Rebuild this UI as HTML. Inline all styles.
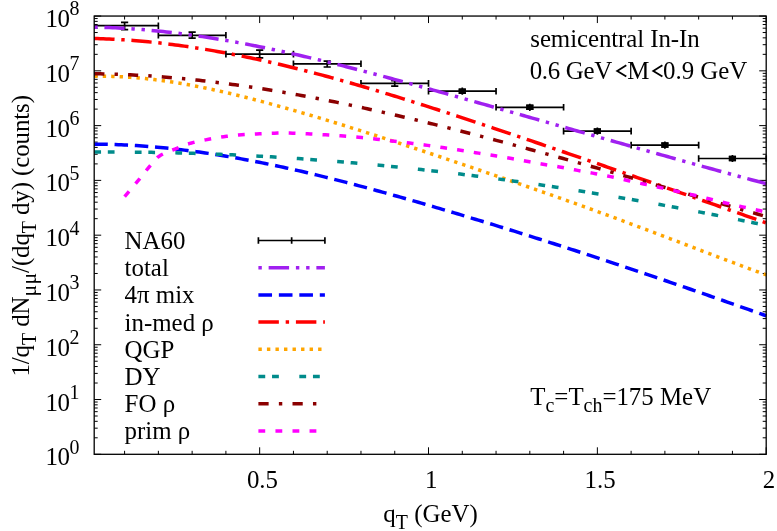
<!DOCTYPE html>
<html><head><meta charset="utf-8"><title>plot</title>
<style>html,body{margin:0;padding:0;background:#fff;}svg{display:block;will-change:transform;}</style>
</head><body>
<svg width="777" height="531" viewBox="0 0 777 531">
<rect width="777" height="531" fill="#fff"/>
<path d="M94.20,454.30 h7.00 M766.20,454.30 h-7.00 M94.20,437.81 h3.50 M766.20,437.81 h-3.50 M94.20,428.16 h3.50 M766.20,428.16 h-3.50 M94.20,421.32 h3.50 M766.20,421.32 h-3.50 M94.20,416.01 h3.50 M766.20,416.01 h-3.50 M94.20,411.67 h3.50 M766.20,411.67 h-3.50 M94.20,408.00 h3.50 M766.20,408.00 h-3.50 M94.20,404.83 h3.50 M766.20,404.83 h-3.50 M94.20,402.03 h3.50 M766.20,402.03 h-3.50 M94.20,399.52 h7.00 M766.20,399.52 h-7.00 M94.20,383.03 h3.50 M766.20,383.03 h-3.50 M94.20,373.38 h3.50 M766.20,373.38 h-3.50 M94.20,366.54 h3.50 M766.20,366.54 h-3.50 M94.20,361.23 h3.50 M766.20,361.23 h-3.50 M94.20,356.89 h3.50 M766.20,356.89 h-3.50 M94.20,353.22 h3.50 M766.20,353.22 h-3.50 M94.20,350.05 h3.50 M766.20,350.05 h-3.50 M94.20,347.24 h3.50 M766.20,347.24 h-3.50 M94.20,344.74 h7.00 M766.20,344.74 h-7.00 M94.20,328.25 h3.50 M766.20,328.25 h-3.50 M94.20,318.60 h3.50 M766.20,318.60 h-3.50 M94.20,311.76 h3.50 M766.20,311.76 h-3.50 M94.20,306.45 h3.50 M766.20,306.45 h-3.50 M94.20,302.11 h3.50 M766.20,302.11 h-3.50 M94.20,298.44 h3.50 M766.20,298.44 h-3.50 M94.20,295.27 h3.50 M766.20,295.27 h-3.50 M94.20,292.46 h3.50 M766.20,292.46 h-3.50 M94.20,289.96 h7.00 M766.20,289.96 h-7.00 M94.20,273.47 h3.50 M766.20,273.47 h-3.50 M94.20,263.82 h3.50 M766.20,263.82 h-3.50 M94.20,256.97 h3.50 M766.20,256.97 h-3.50 M94.20,251.67 h3.50 M766.20,251.67 h-3.50 M94.20,247.33 h3.50 M766.20,247.33 h-3.50 M94.20,243.66 h3.50 M766.20,243.66 h-3.50 M94.20,240.48 h3.50 M766.20,240.48 h-3.50 M94.20,237.68 h3.50 M766.20,237.68 h-3.50 M94.20,235.18 h7.00 M766.20,235.18 h-7.00 M94.20,218.68 h3.50 M766.20,218.68 h-3.50 M94.20,209.04 h3.50 M766.20,209.04 h-3.50 M94.20,202.19 h3.50 M766.20,202.19 h-3.50 M94.20,196.88 h3.50 M766.20,196.88 h-3.50 M94.20,192.55 h3.50 M766.20,192.55 h-3.50 M94.20,188.88 h3.50 M766.20,188.88 h-3.50 M94.20,185.70 h3.50 M766.20,185.70 h-3.50 M94.20,182.90 h3.50 M766.20,182.90 h-3.50 M94.20,180.39 h7.00 M766.20,180.39 h-7.00 M94.20,163.90 h3.50 M766.20,163.90 h-3.50 M94.20,154.26 h3.50 M766.20,154.26 h-3.50 M94.20,147.41 h3.50 M766.20,147.41 h-3.50 M94.20,142.10 h3.50 M766.20,142.10 h-3.50 M94.20,137.77 h3.50 M766.20,137.77 h-3.50 M94.20,134.10 h3.50 M766.20,134.10 h-3.50 M94.20,130.92 h3.50 M766.20,130.92 h-3.50 M94.20,128.12 h3.50 M766.20,128.12 h-3.50 M94.20,125.61 h7.00 M766.20,125.61 h-7.00 M94.20,109.12 h3.50 M766.20,109.12 h-3.50 M94.20,99.48 h3.50 M766.20,99.48 h-3.50 M94.20,92.63 h3.50 M766.20,92.63 h-3.50 M94.20,87.32 h3.50 M766.20,87.32 h-3.50 M94.20,82.98 h3.50 M766.20,82.98 h-3.50 M94.20,79.32 h3.50 M766.20,79.32 h-3.50 M94.20,76.14 h3.50 M766.20,76.14 h-3.50 M94.20,73.34 h3.50 M766.20,73.34 h-3.50 M94.20,70.83 h7.00 M766.20,70.83 h-7.00 M94.20,54.34 h3.50 M766.20,54.34 h-3.50 M94.20,44.69 h3.50 M766.20,44.69 h-3.50 M94.20,37.85 h3.50 M766.20,37.85 h-3.50 M94.20,32.54 h3.50 M766.20,32.54 h-3.50 M94.20,28.20 h3.50 M766.20,28.20 h-3.50 M94.20,24.54 h3.50 M766.20,24.54 h-3.50 M94.20,21.36 h3.50 M766.20,21.36 h-3.50 M94.20,18.56 h3.50 M766.20,18.56 h-3.50 M94.20,16.05 h7.00 M766.20,16.05 h-7.00 M124.59,454.30 v-3.50 M124.59,16.05 v3.50 M158.36,454.30 v-3.50 M158.36,16.05 v3.50 M192.13,454.30 v-3.50 M192.13,16.05 v3.50 M225.90,454.30 v-3.50 M225.90,16.05 v3.50 M259.67,454.30 v-7.00 M259.67,16.05 v7.00 M293.44,454.30 v-3.50 M293.44,16.05 v3.50 M327.21,454.30 v-3.50 M327.21,16.05 v3.50 M360.97,454.30 v-3.50 M360.97,16.05 v3.50 M394.74,454.30 v-3.50 M394.74,16.05 v3.50 M428.51,454.30 v-7.00 M428.51,16.05 v7.00 M462.28,454.30 v-3.50 M462.28,16.05 v3.50 M496.05,454.30 v-3.50 M496.05,16.05 v3.50 M529.82,454.30 v-3.50 M529.82,16.05 v3.50 M563.59,454.30 v-3.50 M563.59,16.05 v3.50 M597.36,454.30 v-7.00 M597.36,16.05 v7.00 M631.12,454.30 v-3.50 M631.12,16.05 v3.50 M664.89,454.30 v-3.50 M664.89,16.05 v3.50 M698.66,454.30 v-3.50 M698.66,16.05 v3.50 M732.43,454.30 v-3.50 M732.43,16.05 v3.50 M766.20,454.30 v-7.00 M766.20,16.05 v7.00" stroke="#000" stroke-width="1.0" fill="none"/>
<path d="M94.20,25.70 H158.36 M158.36,22.40 v6.60 M124.59,22.10 V29.70 M120.99,22.40 h7.20 M120.99,29.70 h7.20 M158.36,35.30 H225.90 M158.36,32.00 v6.60 M225.90,32.00 v6.60 M192.13,31.70 V38.90 M188.53,32.20 h7.20 M188.53,38.20 h7.20 M225.90,54.10 H293.44 M225.90,50.80 v6.60 M293.44,50.80 v6.60 M259.67,50.20 V57.90 M256.07,50.20 h7.20 M256.07,57.90 h7.20 M293.44,63.80 H360.97 M293.44,60.50 v6.60 M360.97,60.50 v6.60 M327.21,60.20 V67.40 M323.61,61.20 h7.20 M323.61,67.00 h7.20 M360.97,83.40 H428.51 M360.97,80.10 v6.60 M428.51,80.10 v6.60 M394.74,79.80 V87.00 M391.14,80.60 h7.20 M391.14,86.20 h7.20 M428.51,91.20 H496.05 M428.51,87.90 v6.60 M496.05,87.90 v6.60 M462.28,87.60 V94.80 M458.68,89.30 h7.20 M458.68,93.10 h7.20 M496.05,107.30 H563.59 M496.05,104.00 v6.60 M563.59,104.00 v6.60 M529.82,103.70 V110.90 M526.22,105.40 h7.20 M526.22,109.20 h7.20 M563.59,131.10 H631.12 M563.59,127.80 v6.60 M631.12,127.80 v6.60 M597.36,127.50 V134.70 M593.76,129.20 h7.20 M593.76,133.00 h7.20 M631.12,145.10 H698.66 M631.12,141.80 v6.60 M698.66,141.80 v6.60 M664.89,141.50 V148.70 M661.29,143.20 h7.20 M661.29,147.00 h7.20 M698.66,158.50 H766.20 M698.66,155.20 v6.60 M766.20,155.20 v6.60 M732.43,154.90 V162.10 M728.83,156.60 h7.20 M728.83,160.40 h7.20 M258.40,240.50 H324.90 M258.40,237.20 v6.60 M291.65,237.20 v6.60 M324.90,237.20 v6.60" stroke="#000" stroke-width="1.7" fill="none"/>
<rect x="458.68" y="88.50" width="7.20" height="5.40" fill="#000"/>
<rect x="526.22" y="104.60" width="7.20" height="5.40" fill="#000"/>
<rect x="593.76" y="128.40" width="7.20" height="5.40" fill="#000"/>
<rect x="661.29" y="142.40" width="7.20" height="5.40" fill="#000"/>
<rect x="728.83" y="155.80" width="7.20" height="5.40" fill="#000"/>
<clipPath id="c"><rect x="94.20" y="16.05" width="672.00" height="438.25"/></clipPath>
<path d="M94.30,27.19 L97.30,27.25 L100.30,27.32 L103.30,27.41 L106.30,27.50 L109.30,27.61 L112.30,27.73 L115.30,27.87 L118.30,28.01 L121.30,28.17 L124.30,28.34 L127.30,28.52 L130.30,28.72 L133.30,28.92 L136.30,29.14 L139.30,29.37 L142.30,29.61 L145.30,29.86 L148.30,30.12 L151.30,30.39 L154.30,30.68 L157.30,30.97 L160.30,31.28 L163.30,31.59 L166.30,31.92 L169.30,32.26 L172.30,32.60 L175.30,32.96 L178.30,33.33 L181.30,33.70 L184.30,34.09 L187.30,34.49 L190.30,34.89 L193.30,35.31 L196.30,35.74 L199.30,36.17 L202.30,36.61 L205.30,37.07 L208.30,37.53 L211.30,38.00 L214.30,38.48 L217.30,38.97 L220.30,39.46 L223.30,39.97 L226.30,40.48 L229.30,41.01 L232.30,41.54 L235.30,42.07 L238.30,42.62 L241.30,43.17 L244.30,43.74 L247.30,44.31 L250.30,44.88 L253.30,45.47 L256.30,46.06 L259.30,46.66 L262.30,47.26 L265.30,47.88 L268.30,48.50 L271.30,49.12 L274.30,49.76 L277.30,50.40 L280.30,51.04 L283.30,51.69 L286.30,52.35 L289.30,53.02 L292.30,53.69 L295.30,54.37 L298.30,55.05 L301.30,55.74 L304.30,56.43 L307.30,57.13 L310.30,57.84 L313.30,58.55 L316.30,59.26 L319.30,59.98 L322.30,60.71 L325.30,61.44 L328.30,62.17 L331.30,62.91 L334.30,63.66 L337.30,64.40 L340.30,65.16 L343.30,65.92 L346.30,66.68 L349.30,67.44 L352.30,68.21 L355.30,68.98 L358.30,69.76 L361.30,70.54 L364.30,71.33 L367.30,72.11 L370.30,72.90 L373.30,73.70 L376.30,74.49 L379.30,75.29 L382.30,76.10 L385.30,76.90 L388.30,77.71 L391.30,78.52 L394.30,79.33 L397.30,80.15 L400.30,80.97 L403.30,81.79 L406.30,82.61 L409.30,83.43 L412.30,84.26 L415.30,85.08 L418.30,85.91 L421.30,86.74 L424.30,87.57 L427.30,88.41 L430.30,89.24 L433.30,90.08 L436.30,90.91 L439.30,91.75 L442.30,92.59 L445.30,93.43 L448.30,94.27 L451.30,95.11 L454.30,95.95 L457.30,96.79 L460.30,97.64 L463.30,98.48 L466.30,99.33 L469.30,100.17 L472.30,101.02 L475.30,101.87 L478.30,102.71 L481.30,103.56 L484.30,104.41 L487.30,105.26 L490.30,106.11 L493.30,106.97 L496.30,107.82 L499.30,108.67 L502.30,109.52 L505.30,110.38 L508.30,111.23 L511.30,112.09 L514.30,112.94 L517.30,113.80 L520.30,114.65 L523.30,115.51 L526.30,116.37 L529.30,117.22 L532.30,118.08 L535.30,118.94 L538.30,119.80 L541.30,120.65 L544.30,121.51 L547.30,122.37 L550.30,123.23 L553.30,124.09 L556.30,124.95 L559.30,125.80 L562.30,126.66 L565.30,127.52 L568.30,128.38 L571.30,129.24 L574.30,130.10 L577.30,130.95 L580.30,131.81 L583.30,132.67 L586.30,133.53 L589.30,134.39 L592.30,135.24 L595.30,136.10 L598.30,136.96 L601.30,137.81 L604.30,138.67 L607.30,139.53 L610.30,140.38 L613.30,141.24 L616.30,142.09 L619.30,142.94 L622.30,143.80 L625.30,144.65 L628.30,145.50 L631.30,146.36 L634.30,147.21 L637.30,148.06 L640.30,148.91 L643.30,149.76 L646.30,150.61 L649.30,151.46 L652.30,152.30 L655.30,153.15 L658.30,154.00 L661.30,154.84 L664.30,155.69 L667.30,156.53 L670.30,157.37 L673.30,158.21 L676.30,159.05 L679.30,159.89 L682.30,160.73 L685.30,161.57 L688.30,162.41 L691.30,163.24 L694.30,164.08 L697.30,164.91 L700.30,165.74 L703.30,166.57 L706.30,167.40 L709.30,168.23 L712.30,169.06 L715.30,169.89 L718.30,170.71 L721.30,171.54 L724.30,172.36 L727.30,173.18 L730.30,174.00 L733.30,174.82 L736.30,175.63 L739.30,176.45 L742.30,177.26 L745.30,178.08 L748.30,178.89 L751.30,179.70 L754.30,180.50 L757.30,181.31 L760.30,182.11 L763.30,182.92 L766.25,183.71" stroke="#a020f0" stroke-width="3.50" stroke-dasharray="3.377 6.754 20.262 6.754 3.377 6.754" fill="none"/>
<path d="M258.40,267.70 H324.90" stroke="#a020f0" stroke-width="3.50" stroke-dasharray="3.41 6.82 20.46 6.82 3.41 6.82" fill="none"/>
<path d="M94.30,144.14 L97.30,144.16 L100.30,144.20 L103.30,144.25 L106.30,144.31 L109.30,144.38 L112.30,144.47 L115.30,144.57 L118.30,144.68 L121.30,144.80 L124.30,144.94 L127.30,145.09 L130.30,145.25 L133.30,145.42 L136.30,145.61 L139.30,145.80 L142.30,146.01 L145.30,146.23 L148.30,146.46 L151.30,146.71 L154.30,146.96 L157.30,147.23 L160.30,147.51 L163.30,147.80 L166.30,148.09 L169.30,148.41 L172.30,148.73 L175.30,149.06 L178.30,149.40 L181.30,149.75 L184.30,150.12 L187.30,150.49 L190.30,150.87 L193.30,151.27 L196.30,151.67 L199.30,152.09 L202.30,152.51 L205.30,152.94 L208.30,153.39 L211.30,153.84 L214.30,154.30 L217.30,154.77 L220.30,155.25 L223.30,155.74 L226.30,156.24 L229.30,156.75 L232.30,157.26 L235.30,157.79 L238.30,158.32 L241.30,158.86 L244.30,159.41 L247.30,159.97 L250.30,160.54 L253.30,161.11 L256.30,161.70 L259.30,162.29 L262.30,162.89 L265.30,163.49 L268.30,164.11 L271.30,164.73 L274.30,165.36 L277.30,165.99 L280.30,166.64 L283.30,167.29 L286.30,167.95 L289.30,168.61 L292.30,169.28 L295.30,169.96 L298.30,170.64 L301.30,171.33 L304.30,172.03 L307.30,172.74 L310.30,173.45 L313.30,174.16 L316.30,174.88 L319.30,175.61 L322.30,176.35 L325.30,177.09 L328.30,177.83 L331.30,178.58 L334.30,179.34 L337.30,180.10 L340.30,180.87 L343.30,181.64 L346.30,182.41 L349.30,183.20 L352.30,183.98 L355.30,184.77 L358.30,185.57 L361.30,186.37 L364.30,187.17 L367.30,187.98 L370.30,188.80 L373.30,189.61 L376.30,190.44 L379.30,191.26 L382.30,192.09 L385.30,192.92 L388.30,193.76 L391.30,194.60 L394.30,195.44 L397.30,196.29 L400.30,197.14 L403.30,197.99 L406.30,198.85 L409.30,199.71 L412.30,200.57 L415.30,201.44 L418.30,202.30 L421.30,203.17 L424.30,204.04 L427.30,204.92 L430.30,205.80 L433.30,206.67 L436.30,207.56 L439.30,208.44 L442.30,209.32 L445.30,210.21 L448.30,211.10 L451.30,211.99 L454.30,212.89 L457.30,213.78 L460.30,214.68 L463.30,215.58 L466.30,216.49 L469.30,217.39 L472.30,218.30 L475.30,219.20 L478.30,220.12 L481.30,221.03 L484.30,221.94 L487.30,222.86 L490.30,223.78 L493.30,224.70 L496.30,225.62 L499.30,226.55 L502.30,227.47 L505.30,228.40 L508.30,229.33 L511.30,230.27 L514.30,231.20 L517.30,232.14 L520.30,233.08 L523.30,234.02 L526.30,234.96 L529.30,235.90 L532.30,236.85 L535.30,237.80 L538.30,238.75 L541.30,239.70 L544.30,240.65 L547.30,241.61 L550.30,242.57 L553.30,243.53 L556.30,244.49 L559.30,245.45 L562.30,246.42 L565.30,247.38 L568.30,248.35 L571.30,249.32 L574.30,250.29 L577.30,251.27 L580.30,252.24 L583.30,253.22 L586.30,254.20 L589.30,255.18 L592.30,256.16 L595.30,257.15 L598.30,258.13 L601.30,259.12 L604.30,260.11 L607.30,261.10 L610.30,262.09 L613.30,263.09 L616.30,264.08 L619.30,265.08 L622.30,266.08 L625.30,267.08 L628.30,268.09 L631.30,269.09 L634.30,270.10 L637.30,271.10 L640.30,272.11 L643.30,273.12 L646.30,274.14 L649.30,275.15 L652.30,276.17 L655.30,277.18 L658.30,278.20 L661.30,279.22 L664.30,280.24 L667.30,281.27 L670.30,282.29 L673.30,283.32 L676.30,284.35 L679.30,285.37 L682.30,286.41 L685.30,287.44 L688.30,288.47 L691.30,289.51 L694.30,290.54 L697.30,291.58 L700.30,292.62 L703.30,293.66 L706.30,294.70 L709.30,295.75 L712.30,296.79 L715.30,297.84 L718.30,298.89 L721.30,299.94 L724.30,300.99 L727.30,302.04 L730.30,303.09 L733.30,304.15 L736.30,305.20 L739.30,306.26 L742.30,307.32 L745.30,308.38 L748.30,309.44 L751.30,310.50 L754.30,311.57 L757.30,312.63 L760.30,313.70 L763.30,314.77 L766.25,315.82" stroke="#0000ff" stroke-width="3.50" stroke-dasharray="13.508 6.754" fill="none"/>
<path d="M258.40,294.90 H324.90" stroke="#0000ff" stroke-width="3.50" stroke-dasharray="13.64 6.82" fill="none"/>
<path d="M94.30,38.52 L97.30,38.59 L100.30,38.68 L103.30,38.78 L106.30,38.90 L109.30,39.03 L112.30,39.17 L115.30,39.32 L118.30,39.49 L121.30,39.67 L124.30,39.86 L127.30,40.06 L130.30,40.28 L133.30,40.51 L136.30,40.75 L139.30,41.00 L142.30,41.26 L145.30,41.54 L148.30,41.82 L151.30,42.12 L154.30,42.43 L157.30,42.75 L160.30,43.08 L163.30,43.43 L166.30,43.78 L169.30,44.15 L172.30,44.53 L175.30,44.91 L178.30,45.31 L181.30,45.72 L184.30,46.14 L187.30,46.57 L190.30,47.01 L193.30,47.46 L196.30,47.92 L199.30,48.39 L202.30,48.87 L205.30,49.36 L208.30,49.86 L211.30,50.37 L214.30,50.89 L217.30,51.42 L220.30,51.96 L223.30,52.50 L226.30,53.06 L229.30,53.63 L232.30,54.20 L235.30,54.79 L238.30,55.38 L241.30,55.98 L244.30,56.59 L247.30,57.21 L250.30,57.83 L253.30,58.47 L256.30,59.11 L259.30,59.76 L262.30,60.42 L265.30,61.09 L268.30,61.77 L271.30,62.45 L274.30,63.14 L277.30,63.84 L280.30,64.55 L283.30,65.26 L286.30,65.98 L289.30,66.71 L292.30,67.44 L295.30,68.19 L298.30,68.94 L301.30,69.69 L304.30,70.45 L307.30,71.22 L310.30,72.00 L313.30,72.78 L316.30,73.57 L319.30,74.37 L322.30,75.17 L325.30,75.98 L328.30,76.79 L331.30,77.61 L334.30,78.43 L337.30,79.27 L340.30,80.10 L343.30,80.94 L346.30,81.79 L349.30,82.64 L352.30,83.50 L355.30,84.37 L358.30,85.23 L361.30,86.11 L364.30,86.99 L367.30,87.87 L370.30,88.76 L373.30,89.65 L376.30,90.55 L379.30,91.45 L382.30,92.35 L385.30,93.26 L388.30,94.18 L391.30,95.09 L394.30,96.02 L397.30,96.94 L400.30,97.87 L403.30,98.80 L406.30,99.74 L409.30,100.68 L412.30,101.62 L415.30,102.57 L418.30,103.52 L421.30,104.47 L424.30,105.43 L427.30,106.39 L430.30,107.35 L433.30,108.31 L436.30,109.28 L439.30,110.25 L442.30,111.22 L445.30,112.20 L448.30,113.17 L451.30,114.15 L454.30,115.13 L457.30,116.12 L460.30,117.10 L463.30,118.09 L466.30,119.08 L469.30,120.07 L472.30,121.06 L475.30,122.05 L478.30,123.05 L481.30,124.04 L484.30,125.04 L487.30,126.04 L490.30,127.04 L493.30,128.04 L496.30,129.05 L499.30,130.05 L502.30,131.06 L505.30,132.07 L508.30,133.08 L511.30,134.09 L514.30,135.10 L517.30,136.12 L520.30,137.13 L523.30,138.15 L526.30,139.17 L529.30,140.19 L532.30,141.21 L535.30,142.23 L538.30,143.25 L541.30,144.27 L544.30,145.30 L547.30,146.33 L550.30,147.35 L553.30,148.38 L556.30,149.41 L559.30,150.44 L562.30,151.47 L565.30,152.51 L568.30,153.54 L571.30,154.58 L574.30,155.61 L577.30,156.65 L580.30,157.68 L583.30,158.72 L586.30,159.76 L589.30,160.80 L592.30,161.84 L595.30,162.89 L598.30,163.93 L601.30,164.97 L604.30,166.02 L607.30,167.06 L610.30,168.11 L613.30,169.15 L616.30,170.20 L619.30,171.25 L622.30,172.29 L625.30,173.34 L628.30,174.39 L631.30,175.44 L634.30,176.49 L637.30,177.54 L640.30,178.59 L643.30,179.64 L646.30,180.70 L649.30,181.75 L652.30,182.80 L655.30,183.86 L658.30,184.91 L661.30,185.96 L664.30,187.02 L667.30,188.07 L670.30,189.13 L673.30,190.18 L676.30,191.24 L679.30,192.29 L682.30,193.35 L685.30,194.40 L688.30,195.46 L691.30,196.52 L694.30,197.57 L697.30,198.63 L700.30,199.69 L703.30,200.74 L706.30,201.80 L709.30,202.86 L712.30,203.91 L715.30,204.97 L718.30,206.02 L721.30,207.08 L724.30,208.14 L727.30,209.19 L730.30,210.25 L733.30,211.30 L736.30,212.36 L739.30,213.42 L742.30,214.47 L745.30,215.53 L748.30,216.58 L751.30,217.63 L754.30,218.69 L757.30,219.74 L760.30,220.79 L763.30,221.85 L766.25,222.88" stroke="#ff0000" stroke-width="3.50" stroke-dasharray="20.262 6.754 3.377 6.754" fill="none"/>
<path d="M258.40,322.10 H324.90" stroke="#ff0000" stroke-width="3.50" stroke-dasharray="20.46 6.82 3.41 6.82" fill="none"/>
<path d="M94.30,76.24 L97.30,76.20 L100.30,76.20 L103.30,76.21 L106.30,76.25 L109.30,76.31 L112.30,76.39 L115.30,76.49 L118.30,76.61 L121.30,76.75 L124.30,76.92 L127.30,77.10 L130.30,77.30 L133.30,77.53 L136.30,77.77 L139.30,78.03 L142.30,78.31 L145.30,78.61 L148.30,78.93 L151.30,79.26 L154.30,79.61 L157.30,79.98 L160.30,80.37 L163.30,80.77 L166.30,81.19 L169.30,81.63 L172.30,82.08 L175.30,82.55 L178.30,83.03 L181.30,83.53 L184.30,84.04 L187.30,84.57 L190.30,85.11 L193.30,85.67 L196.30,86.23 L199.30,86.82 L202.30,87.41 L205.30,88.02 L208.30,88.64 L211.30,89.28 L214.30,89.92 L217.30,90.58 L220.30,91.25 L223.30,91.93 L226.30,92.62 L229.30,93.32 L232.30,94.03 L235.30,94.75 L238.30,95.48 L241.30,96.22 L244.30,96.97 L247.30,97.73 L250.30,98.49 L253.30,99.27 L256.30,100.05 L259.30,100.84 L262.30,101.64 L265.30,102.44 L268.30,103.26 L271.30,104.08 L274.30,104.90 L277.30,105.73 L280.30,106.57 L283.30,107.41 L286.30,108.26 L289.30,109.11 L292.30,109.97 L295.30,110.83 L298.30,111.70 L301.30,112.57 L304.30,113.45 L307.30,114.33 L310.30,115.21 L313.30,116.11 L316.30,117.00 L319.30,117.90 L322.30,118.80 L325.30,119.71 L328.30,120.62 L331.30,121.54 L334.30,122.46 L337.30,123.38 L340.30,124.31 L343.30,125.24 L346.30,126.17 L349.30,127.11 L352.30,128.05 L355.30,129.00 L358.30,129.94 L361.30,130.90 L364.30,131.85 L367.30,132.81 L370.30,133.77 L373.30,134.73 L376.30,135.70 L379.30,136.67 L382.30,137.64 L385.30,138.61 L388.30,139.59 L391.30,140.57 L394.30,141.55 L397.30,142.54 L400.30,143.52 L403.30,144.51 L406.30,145.50 L409.30,146.50 L412.30,147.49 L415.30,148.49 L418.30,149.49 L421.30,150.49 L424.30,151.49 L427.30,152.49 L430.30,153.50 L433.30,154.51 L436.30,155.51 L439.30,156.52 L442.30,157.53 L445.30,158.54 L448.30,159.56 L451.30,160.57 L454.30,161.59 L457.30,162.60 L460.30,163.62 L463.30,164.63 L466.30,165.65 L469.30,166.67 L472.30,167.69 L475.30,168.71 L478.30,169.73 L481.30,170.76 L484.30,171.78 L487.30,172.80 L490.30,173.83 L493.30,174.86 L496.30,175.89 L499.30,176.92 L502.30,177.95 L505.30,178.98 L508.30,180.01 L511.30,181.05 L514.30,182.09 L517.30,183.12 L520.30,184.16 L523.30,185.20 L526.30,186.25 L529.30,187.29 L532.30,188.34 L535.30,189.39 L538.30,190.43 L541.30,191.49 L544.30,192.54 L547.30,193.59 L550.30,194.65 L553.30,195.71 L556.30,196.77 L559.30,197.83 L562.30,198.90 L565.30,199.97 L568.30,201.04 L571.30,202.11 L574.30,203.18 L577.30,204.26 L580.30,205.33 L583.30,206.41 L586.30,207.50 L589.30,208.58 L592.30,209.67 L595.30,210.76 L598.30,211.85 L601.30,212.95 L604.30,214.04 L607.30,215.14 L610.30,216.25 L613.30,217.35 L616.30,218.46 L619.30,219.57 L622.30,220.68 L625.30,221.80 L628.30,222.92 L631.30,224.04 L634.30,225.17 L637.30,226.29 L640.30,227.42 L643.30,228.55 L646.30,229.68 L649.30,230.82 L652.30,231.95 L655.30,233.09 L658.30,234.23 L661.30,235.37 L664.30,236.51 L667.30,237.65 L670.30,238.79 L673.30,239.94 L676.30,241.08 L679.30,242.22 L682.30,243.37 L685.30,244.51 L688.30,245.65 L691.30,246.80 L694.30,247.94 L697.30,249.08 L700.30,250.23 L703.30,251.37 L706.30,252.51 L709.30,253.65 L712.30,254.79 L715.30,255.92 L718.30,257.06 L721.30,258.19 L724.30,259.33 L727.30,260.46 L730.30,261.58 L733.30,262.71 L736.30,263.83 L739.30,264.95 L742.30,266.07 L745.30,267.19 L748.30,268.30 L751.30,269.41 L754.30,270.52 L757.30,271.62 L760.30,272.72 L763.30,273.82 L766.25,274.90" stroke="#ffa500" stroke-width="3.50" stroke-dasharray="3.377 5.066" fill="none"/>
<path d="M258.40,349.30 H324.90" stroke="#ffa500" stroke-width="3.50" stroke-dasharray="3.41 5.12" fill="none"/>
<path d="M94.30,152.07 L97.30,152.06 L100.30,152.05 L103.30,152.04 L106.30,152.03 L109.30,152.03 L112.30,152.03 L115.30,152.04 L118.30,152.04 L121.30,152.06 L124.30,152.07 L127.30,152.09 L130.30,152.11 L133.30,152.14 L136.30,152.16 L139.30,152.20 L142.30,152.23 L145.30,152.27 L148.30,152.31 L151.30,152.36 L154.30,152.41 L157.30,152.46 L160.30,152.51 L163.30,152.57 L166.30,152.63 L169.30,152.70 L172.30,152.77 L175.30,152.84 L178.30,152.92 L181.30,153.00 L184.30,153.08 L187.30,153.16 L190.30,153.25 L193.30,153.34 L196.30,153.44 L199.30,153.54 L202.30,153.64 L205.30,153.74 L208.30,153.85 L211.30,153.96 L214.30,154.08 L217.30,154.20 L220.30,154.32 L223.30,154.44 L226.30,154.57 L229.30,154.70 L232.30,154.84 L235.30,154.97 L238.30,155.11 L241.30,155.26 L244.30,155.40 L247.30,155.56 L250.30,155.71 L253.30,155.87 L256.30,156.03 L259.30,156.19 L262.30,156.35 L265.30,156.52 L268.30,156.70 L271.30,156.87 L274.30,157.05 L277.30,157.23 L280.30,157.42 L283.30,157.61 L286.30,157.80 L289.30,157.99 L292.30,158.19 L295.30,158.39 L298.30,158.60 L301.30,158.80 L304.30,159.01 L307.30,159.23 L310.30,159.44 L313.30,159.66 L316.30,159.89 L319.30,160.11 L322.30,160.34 L325.30,160.57 L328.30,160.81 L331.30,161.04 L334.30,161.29 L337.30,161.53 L340.30,161.78 L343.30,162.03 L346.30,162.28 L349.30,162.54 L352.30,162.80 L355.30,163.06 L358.30,163.32 L361.30,163.59 L364.30,163.86 L367.30,164.14 L370.30,164.41 L373.30,164.69 L376.30,164.98 L379.30,165.26 L382.30,165.55 L385.30,165.85 L388.30,166.14 L391.30,166.44 L394.30,166.74 L397.30,167.05 L400.30,167.35 L403.30,167.66 L406.30,167.98 L409.30,168.29 L412.30,168.61 L415.30,168.93 L418.30,169.26 L421.30,169.58 L424.30,169.91 L427.30,170.25 L430.30,170.58 L433.30,170.92 L436.30,171.27 L439.30,171.61 L442.30,171.96 L445.30,172.31 L448.30,172.66 L451.30,173.02 L454.30,173.38 L457.30,173.74 L460.30,174.11 L463.30,174.47 L466.30,174.85 L469.30,175.22 L472.30,175.60 L475.30,175.97 L478.30,176.36 L481.30,176.74 L484.30,177.13 L487.30,177.52 L490.30,177.91 L493.30,178.31 L496.30,178.71 L499.30,179.11 L502.30,179.52 L505.30,179.92 L508.30,180.33 L511.30,180.75 L514.30,181.16 L517.30,181.58 L520.30,182.00 L523.30,182.42 L526.30,182.85 L529.30,183.28 L532.30,183.71 L535.30,184.15 L538.30,184.58 L541.30,185.03 L544.30,185.47 L547.30,185.91 L550.30,186.36 L553.30,186.81 L556.30,187.27 L559.30,187.72 L562.30,188.18 L565.30,188.64 L568.30,189.11 L571.30,189.58 L574.30,190.05 L577.30,190.52 L580.30,190.99 L583.30,191.47 L586.30,191.95 L589.30,192.44 L592.30,192.92 L595.30,193.41 L598.30,193.90 L601.30,194.39 L604.30,194.89 L607.30,195.39 L610.30,195.89 L613.30,196.40 L616.30,196.90 L619.30,197.41 L622.30,197.92 L625.30,198.44 L628.30,198.96 L631.30,199.47 L634.30,200.00 L637.30,200.52 L640.30,201.05 L643.30,201.58 L646.30,202.11 L649.30,202.65 L652.30,203.18 L655.30,203.72 L658.30,204.27 L661.30,204.81 L664.30,205.36 L667.30,205.91 L670.30,206.46 L673.30,207.02 L676.30,207.57 L679.30,208.13 L682.30,208.70 L685.30,209.26 L688.30,209.83 L691.30,210.40 L694.30,210.97 L697.30,211.55 L700.30,212.13 L703.30,212.71 L706.30,213.29 L709.30,213.87 L712.30,214.46 L715.30,215.05 L718.30,215.64 L721.30,216.24 L724.30,216.83 L727.30,217.43 L730.30,218.03 L733.30,218.64 L736.30,219.24 L739.30,219.85 L742.30,220.47 L745.30,221.08 L748.30,221.70 L751.30,222.31 L754.30,222.93 L757.30,223.56 L760.30,224.18 L763.30,224.81 L766.25,225.43" stroke="#008b8b" stroke-width="3.50" stroke-dasharray="6.754 6.754 6.754 20.262" fill="none"/>
<path d="M258.40,376.50 H324.90" stroke="#008b8b" stroke-width="3.50" stroke-dasharray="6.82 6.82 6.82 20.46" fill="none"/>
<path d="M94.30,73.75 L97.30,73.79 L100.30,73.84 L103.30,73.90 L106.30,73.97 L109.30,74.05 L112.30,74.14 L115.30,74.23 L118.30,74.34 L121.30,74.45 L124.30,74.58 L127.30,74.71 L130.30,74.85 L133.30,75.00 L136.30,75.16 L139.30,75.32 L142.30,75.50 L145.30,75.68 L148.30,75.87 L151.30,76.07 L154.30,76.28 L157.30,76.50 L160.30,76.72 L163.30,76.96 L166.30,77.20 L169.30,77.44 L172.30,77.70 L175.30,77.96 L178.30,78.24 L181.30,78.52 L184.30,78.80 L187.30,79.10 L190.30,79.40 L193.30,79.71 L196.30,80.03 L199.30,80.36 L202.30,80.69 L205.30,81.03 L208.30,81.38 L211.30,81.73 L214.30,82.09 L217.30,82.46 L220.30,82.84 L223.30,83.22 L226.30,83.61 L229.30,84.00 L232.30,84.41 L235.30,84.82 L238.30,85.23 L241.30,85.66 L244.30,86.09 L247.30,86.53 L250.30,86.97 L253.30,87.42 L256.30,87.87 L259.30,88.34 L262.30,88.81 L265.30,89.28 L268.30,89.76 L271.30,90.25 L274.30,90.74 L277.30,91.24 L280.30,91.75 L283.30,92.26 L286.30,92.78 L289.30,93.30 L292.30,93.83 L295.30,94.36 L298.30,94.90 L301.30,95.45 L304.30,96.00 L307.30,96.55 L310.30,97.12 L313.30,97.68 L316.30,98.26 L319.30,98.83 L322.30,99.42 L325.30,100.01 L328.30,100.60 L331.30,101.20 L334.30,101.80 L337.30,102.41 L340.30,103.02 L343.30,103.64 L346.30,104.27 L349.30,104.89 L352.30,105.53 L355.30,106.16 L358.30,106.80 L361.30,107.45 L364.30,108.10 L367.30,108.76 L370.30,109.42 L373.30,110.08 L376.30,110.75 L379.30,111.42 L382.30,112.10 L385.30,112.78 L388.30,113.46 L391.30,114.15 L394.30,114.84 L397.30,115.54 L400.30,116.24 L403.30,116.94 L406.30,117.65 L409.30,118.36 L412.30,119.07 L415.30,119.79 L418.30,120.51 L421.30,121.24 L424.30,121.97 L427.30,122.70 L430.30,123.43 L433.30,124.17 L436.30,124.91 L439.30,125.66 L442.30,126.40 L445.30,127.16 L448.30,127.91 L451.30,128.67 L454.30,129.42 L457.30,130.19 L460.30,130.95 L463.30,131.72 L466.30,132.49 L469.30,133.26 L472.30,134.04 L475.30,134.81 L478.30,135.59 L481.30,136.38 L484.30,137.16 L487.30,137.95 L490.30,138.74 L493.30,139.53 L496.30,140.32 L499.30,141.12 L502.30,141.92 L505.30,142.72 L508.30,143.52 L511.30,144.33 L514.30,145.13 L517.30,145.94 L520.30,146.75 L523.30,147.56 L526.30,148.38 L529.30,149.19 L532.30,150.01 L535.30,150.83 L538.30,151.65 L541.30,152.48 L544.30,153.30 L547.30,154.13 L550.30,154.96 L553.30,155.79 L556.30,156.62 L559.30,157.45 L562.30,158.29 L565.30,159.12 L568.30,159.96 L571.30,160.80 L574.30,161.64 L577.30,162.48 L580.30,163.32 L583.30,164.16 L586.30,165.01 L589.30,165.85 L592.30,166.70 L595.30,167.55 L598.30,168.40 L601.30,169.25 L604.30,170.10 L607.30,170.95 L610.30,171.80 L613.30,172.66 L616.30,173.51 L619.30,174.37 L622.30,175.23 L625.30,176.08 L628.30,176.94 L631.30,177.80 L634.30,178.66 L637.30,179.52 L640.30,180.38 L643.30,181.24 L646.30,182.10 L649.30,182.96 L652.30,183.82 L655.30,184.69 L658.30,185.55 L661.30,186.41 L664.30,187.27 L667.30,188.14 L670.30,189.00 L673.30,189.87 L676.30,190.73 L679.30,191.60 L682.30,192.46 L685.30,193.32 L688.30,194.19 L691.30,195.05 L694.30,195.92 L697.30,196.78 L700.30,197.65 L703.30,198.51 L706.30,199.37 L709.30,200.24 L712.30,201.10 L715.30,201.96 L718.30,202.83 L721.30,203.69 L724.30,204.55 L727.30,205.41 L730.30,206.27 L733.30,207.13 L736.30,207.99 L739.30,208.85 L742.30,209.71 L745.30,210.57 L748.30,211.43 L751.30,212.28 L754.30,213.14 L757.30,213.99 L760.30,214.85 L763.30,215.70 L766.25,216.54" stroke="#8b0000" stroke-width="3.50" stroke-dasharray="10.131 10.131 3.377 10.131" fill="none"/>
<path d="M258.40,403.70 H324.90" stroke="#8b0000" stroke-width="3.50" stroke-dasharray="10.23 10.23 3.41 10.23" fill="none"/>
<path d="M124.60,196.60 L127.60,193.14 L130.60,189.62 L133.60,186.07 L136.60,182.48 L139.60,178.83 L142.60,175.04 L145.60,171.22 L148.60,167.54 L151.60,163.99 L154.60,160.39 L157.60,157.32 L160.60,155.25 L163.60,153.65 L166.60,152.30 L169.60,151.12 L172.60,149.99 L175.60,148.83 L178.60,147.60 L181.60,146.36 L184.60,145.19 L187.60,144.11 L190.60,143.19 L193.60,142.41 L196.60,141.70 L199.60,141.05 L202.60,140.45 L205.60,139.87 L208.60,139.29 L211.60,138.71 L214.60,138.15 L217.60,137.62 L220.60,137.13 L223.60,136.68 L226.60,136.30 L229.60,135.95 L232.60,135.63 L235.60,135.33 L238.60,135.06 L241.60,134.82 L244.60,134.60 L247.60,134.40 L250.60,134.22 L253.60,134.06 L256.60,133.90 L259.60,133.77 L262.60,133.64 L265.60,133.50 L268.60,133.37 L271.60,133.24 L274.60,133.14 L277.60,133.06 L280.60,133.01 L283.60,133.00 L286.60,133.05 L289.60,133.11 L292.60,133.19 L295.60,133.29 L298.60,133.40 L301.60,133.53 L304.60,133.67 L307.60,133.82 L310.60,133.98 L313.60,134.15 L316.60,134.33 L319.60,134.51 L322.60,134.69 L325.60,134.87 L328.60,135.05 L331.60,135.24 L334.60,135.43 L337.60,135.63 L340.60,135.84 L343.60,136.06 L346.60,136.29 L349.60,136.53 L352.60,136.77 L355.60,137.02 L358.60,137.29 L361.60,137.55 L364.60,137.84 L367.60,138.15 L370.60,138.47 L373.60,138.81 L376.60,139.15 L379.60,139.51 L382.60,139.87 L385.60,140.24 L388.60,140.60 L391.60,140.96 L394.60,141.32 L397.60,141.68 L400.60,142.03 L403.60,142.38 L406.60,142.74 L409.60,143.10 L412.60,143.47 L415.60,143.84 L418.60,144.21 L421.60,144.59 L424.60,144.98 L427.60,145.38 L430.60,145.79 L433.60,146.21 L436.60,146.64 L439.60,147.07 L442.60,147.52 L445.60,147.97 L448.60,148.43 L451.60,148.89 L454.60,149.35 L457.60,149.82 L460.60,150.28 L463.60,150.75 L466.60,151.22 L469.60,151.69 L472.60,152.17 L475.60,152.65 L478.60,153.14 L481.60,153.62 L484.60,154.10 L487.60,154.57 L490.60,155.05 L493.60,155.54 L496.60,156.02 L499.60,156.51 L502.60,157.00 L505.60,157.50 L508.60,158.01 L511.60,158.53 L514.60,159.06 L517.60,159.60 L520.60,160.16 L523.60,160.71 L526.60,161.28 L529.60,161.84 L532.60,162.39 L535.60,162.94 L538.60,163.48 L541.60,164.01 L544.60,164.52 L547.60,165.00 L550.60,165.47 L553.60,165.94 L556.60,166.42 L559.60,166.93 L562.60,167.47 L565.60,168.05 L568.60,168.64 L571.60,169.24 L574.60,169.83 L577.60,170.40 L580.60,170.96 L583.60,171.51 L586.60,172.06 L589.60,172.61 L592.60,173.15 L595.60,173.71 L598.60,174.26 L601.60,174.83 L604.60,175.41 L607.60,176.01 L610.60,176.62 L613.60,177.27 L616.60,177.94 L619.60,178.63 L622.60,179.33 L625.60,180.02 L628.60,180.71 L631.60,181.38 L634.60,182.04 L637.60,182.69 L640.60,183.34 L643.60,183.99 L646.60,184.63 L649.60,185.27 L652.60,185.91 L655.60,186.56 L658.60,187.21 L661.60,187.86 L664.60,188.52 L667.60,189.19 L670.60,189.86 L673.60,190.53 L676.60,191.21 L679.60,191.88 L682.60,192.57 L685.60,193.25 L688.60,193.94 L691.60,194.64 L694.60,195.33 L697.60,196.04 L700.60,196.75 L703.60,197.47 L706.60,198.21 L709.60,198.95 L712.60,199.70 L715.60,200.45 L718.60,201.20 L721.60,201.94 L724.60,202.68 L727.60,203.40 L730.60,204.11 L733.60,204.81 L736.60,205.50 L739.60,206.19 L742.60,206.87 L745.60,207.54 L748.60,208.21 L751.60,208.87 L754.60,209.52 L757.60,210.17 L760.60,210.81 L763.60,211.44 L766.25,212.00" stroke="#ff00ff" stroke-width="3.50" stroke-dasharray="6.772 10.158" fill="none"/>
<path d="M258.40,430.90 H324.90" stroke="#ff00ff" stroke-width="3.50" stroke-dasharray="6.82 10.23" fill="none"/>
<rect x="94.20" y="16.05" width="672.00" height="438.25" fill="none" stroke="#000" stroke-width="1.3"/>
<g font-family="'Liberation Serif', serif" font-size="24.9" fill="#000">
<text x="79.4" y="465.40" text-anchor="end"><tspan letter-spacing="-0.5">10</tspan><tspan font-size="19.9" dy="-11.7">0</tspan></text>
<text x="79.4" y="410.62" text-anchor="end"><tspan letter-spacing="-0.5">10</tspan><tspan font-size="19.9" dy="-11.7">1</tspan></text>
<text x="79.4" y="355.84" text-anchor="end"><tspan letter-spacing="-0.5">10</tspan><tspan font-size="19.9" dy="-11.7">2</tspan></text>
<text x="79.4" y="301.06" text-anchor="end"><tspan letter-spacing="-0.5">10</tspan><tspan font-size="19.9" dy="-11.7">3</tspan></text>
<text x="79.4" y="246.28" text-anchor="end"><tspan letter-spacing="-0.5">10</tspan><tspan font-size="19.9" dy="-11.7">4</tspan></text>
<text x="79.4" y="191.49" text-anchor="end"><tspan letter-spacing="-0.5">10</tspan><tspan font-size="19.9" dy="-11.7">5</tspan></text>
<text x="79.4" y="136.71" text-anchor="end"><tspan letter-spacing="-0.5">10</tspan><tspan font-size="19.9" dy="-11.7">6</tspan></text>
<text x="79.4" y="81.93" text-anchor="end"><tspan letter-spacing="-0.5">10</tspan><tspan font-size="19.9" dy="-11.7">7</tspan></text>
<text x="79.4" y="27.15" text-anchor="end"><tspan letter-spacing="-0.5">10</tspan><tspan font-size="19.9" dy="-11.7">8</tspan></text>
<text x="262.47" y="487.6" text-anchor="middle">0.5</text>
<text x="431.31" y="487.6" text-anchor="middle">1</text>
<text x="600.16" y="487.6" text-anchor="middle">1.5</text>
<text x="769.00" y="487.6" text-anchor="middle">2</text>
<text x="383.3" y="521.6">q<tspan font-size="19.9" dy="7.7">T</tspan><tspan dy="-7.7"> (GeV)</tspan></text>
<text transform="translate(28.6,376.6) rotate(-90)" letter-spacing="-0.09">1/q<tspan font-size="19.9" dy="7.2">T</tspan><tspan dy="-7.2"> dN</tspan><tspan font-size="21.5" dy="7.2">μ</tspan><tspan font-size="21.5" dx="0.8">μ</tspan><tspan dy="-7.2">/(dq</tspan><tspan font-size="19.9" dy="7.2">T</tspan><tspan dy="-7.2"> dy) (counts)</tspan></text>
<text x="124.6" y="248.90">NA60</text>
<text x="124.6" y="276.10">total</text>
<text x="124.6" y="303.30">4π mix</text>
<text x="124.6" y="330.50">in-med ρ</text>
<text x="124.6" y="357.70">QGP</text>
<text x="124.6" y="384.90">DY</text>
<text x="124.6" y="412.10">FO ρ</text>
<text x="124.6" y="439.30">prim ρ</text>
<text x="530.3" y="46.8" textLength="169.3" lengthAdjust="spacing">semicentral In-In</text>
<text x="529.7" y="79.2" textLength="82.6" lengthAdjust="spacing">0.6 GeV</text>
<text x="627.3" y="79.2">M</text>
<text x="663.1" y="79.2" textLength="84.2" lengthAdjust="spacing">0.9 GeV</text>
<path d="M626.3,65.3 L617.2,70.9 L626.3,76.5 M662.4,65.3 L653.3,70.9 L662.4,76.5" fill="none" stroke="#000" stroke-width="1.8" stroke-linejoin="miter" stroke-miterlimit="10"/>
<text x="530.3" y="405.2">T<tspan font-size="19.9" dy="7.2">c</tspan><tspan dy="-7.2">=T</tspan><tspan font-size="19.9" dy="7.2">ch</tspan><tspan dy="-7.2">=175 MeV</tspan></text>
</g>
</svg>
</body></html>
